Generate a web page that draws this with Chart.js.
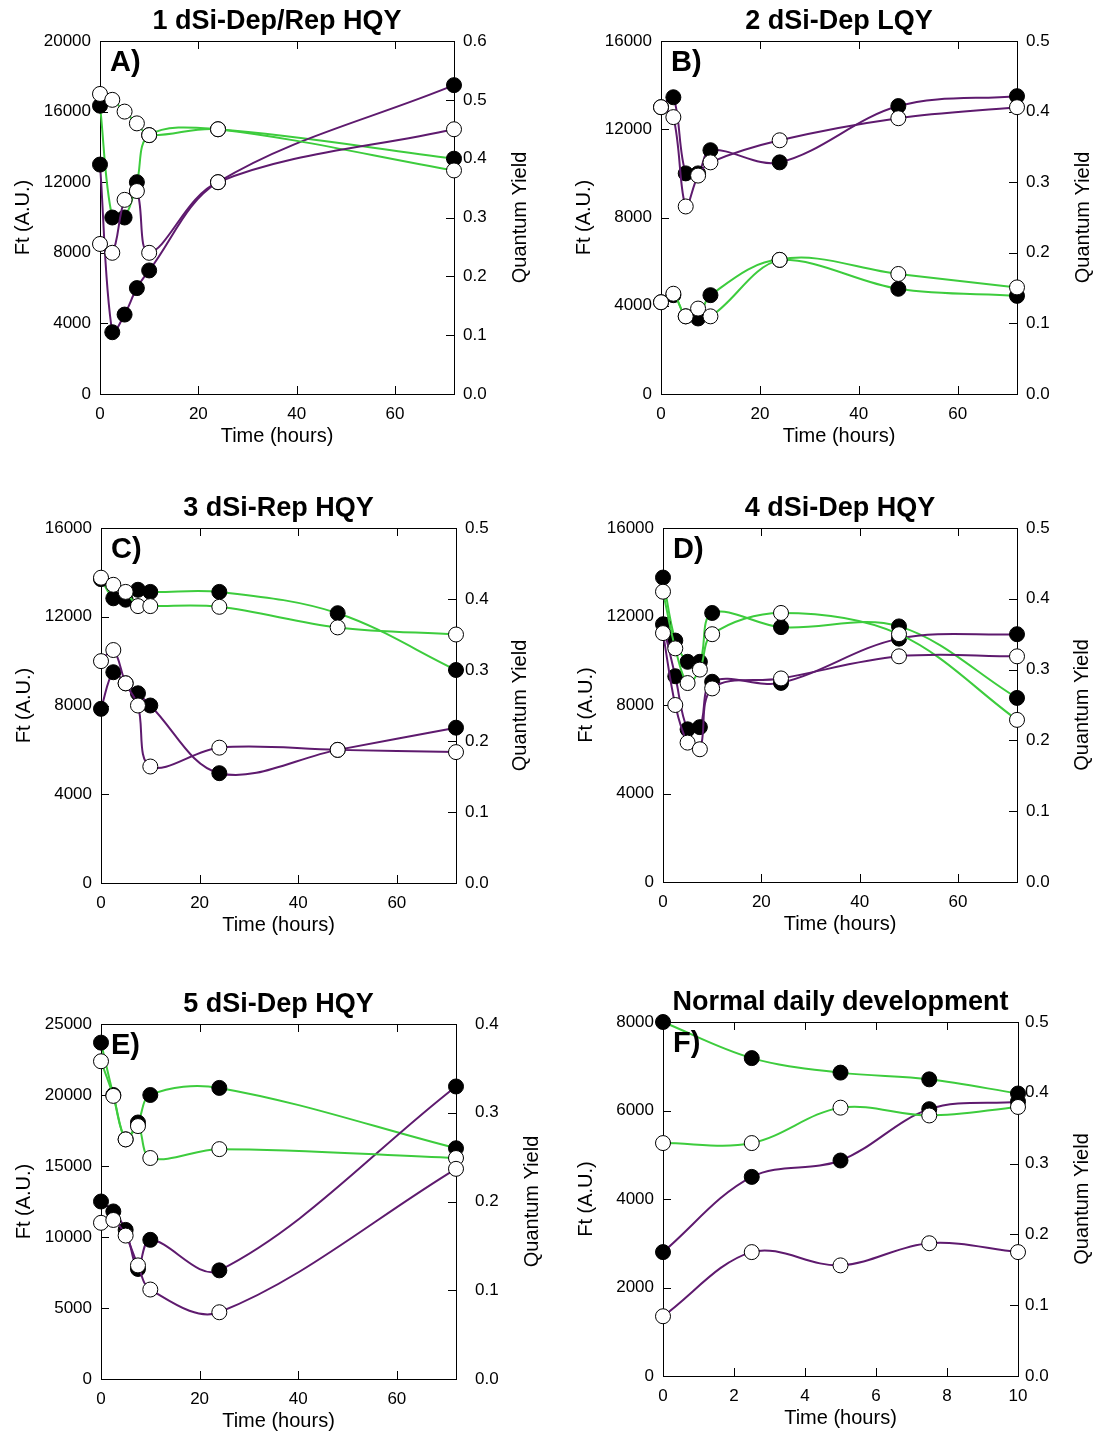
<!DOCTYPE html>
<html>
<head>
<meta charset="utf-8">
<script src="https://cdn.jsdelivr.net/npm/chart.js@4.4.1/dist/chart.umd.min.js"></script>
<style>
  html, body { margin: 0; padding: 0; background: #fff; overflow: hidden; }
  body { width: 1094px; height: 1433px; position: relative; }
  canvas { position: absolute; }
</style>
</head>
<body>
<canvas id="pA"></canvas>
<canvas id="pB"></canvas>
<canvas id="pC"></canvas>
<canvas id="pD"></canvas>
<canvas id="pE"></canvas>
<canvas id="pF"></canvas>
<script>
// time points (hours)
const timeA = [0, 2.5, 5, 7.5, 10, 24, 72];
const timeB = [0, 2.5, 5, 7.5, 10, 24, 48, 72];
const timeC = [0, 2.5, 5, 7.5, 10, 24, 48, 72];
const timeD = [0, 2.5, 5, 7.5, 10, 24, 48, 72];
const timeE = [0, 2.5, 5, 7.5, 10, 24, 72];
const timeF = [0, 2.5, 5, 7.5, 10];

// Ft (A.U.), filled and open symbols
const ftFilledA = [13000, 3500, 4500, 6000, 7000, 12000, 17500];
const ftOpenA = [8500, 8000, 11000, 11500, 8000, 12000, 15000];
const ftFilledB = [13000, 13450, 10000, 10000, 11050, 10500, 13050, 13500];
const ftOpenB = [13000, 12550, 8500, 9900, 10500, 11500, 12500, 13000];
const ftFilledC = [7850, 9500, 9000, 8550, 8000, 4950, 6000, 7000];
const ftOpenC = [10000, 10500, 9000, 8000, 5250, 6100, 6000, 5900];
const ftFilledD = [11650, 9300, 6900, 7000, 9050, 9000, 11000, 11200];
const ftOpenD = [11250, 8000, 6300, 6000, 8750, 9200, 10200, 10200];
const ftFilledE = [12500, 11800, 10500, 7750, 9800, 7650, 20600];
const ftOpenE = [11000, 11200, 10100, 8000, 6300, 4700, 14800];
const ftFilledF = [2800, 4500, 4870, 6030, 6200];
const ftOpenF = [1350, 2800, 2500, 3000, 2800];

// quantum yield, filled and open symbols
const qyFilledA = [0.49, 0.30, 0.30, 0.36, 0.44, 0.45, 0.40];
const qyOpenA = [0.51, 0.50, 0.48, 0.46, 0.44, 0.45, 0.38];
const qyFilledB = [0.13, 0.14, 0.11, 0.107, 0.14, 0.19, 0.149, 0.139];
const qyOpenB = [0.13, 0.142, 0.11, 0.121, 0.11, 0.19, 0.17, 0.151];
const qyFilledC = [0.428, 0.401, 0.399, 0.413, 0.41, 0.41, 0.38, 0.30];
const qyOpenC = [0.43, 0.42, 0.41, 0.39, 0.39, 0.389, 0.36, 0.35];
const qyFilledD = [0.43, 0.341, 0.311, 0.311, 0.38, 0.36, 0.361, 0.26];
const qyOpenD = [0.41, 0.33, 0.281, 0.30, 0.35, 0.38, 0.35, 0.229];
const qyFilledE = [0.379, 0.32, 0.27, 0.289, 0.32, 0.328, 0.26];
const qyOpenE = [0.358, 0.319, 0.27, 0.285, 0.249, 0.259, 0.249];
const qyFilledF = [0.50, 0.449, 0.4285, 0.419, 0.399];
const qyOpenF = [0.329, 0.329, 0.379, 0.368, 0.38];

const PURPLE = '#5e1a6e';
const GREEN = '#3dcc3d';
const AXW = 92, XH = 62, TOPH = 41;

Chart.defaults.font.family = '"Liberation Sans", Arial, sans-serif';
Chart.defaults.color = '#000';

const panels = [
  { id: 'pA', title: '1 dSi-Dep/Rep HQY', letter: 'A)', box: [100, 41, 454, 394],
    t: timeA, ftF: ftFilledA, ftO: ftOpenA, qyF: qyFilledA, qyO: qyOpenA,
    xMax: 72, xStep: 20, ftMax: 20000, ftStep: 4000, qyMax: 0.6, qyGap: 66, qyPad: 9 },
  { id: 'pB', title: '2 dSi-Dep LQY', letter: 'B)', box: [661, 41, 1017, 394],
    t: timeB, ftF: ftFilledB, ftO: ftOpenB, qyF: qyFilledB, qyO: qyOpenB,
    xMax: 72, xStep: 20, ftMax: 16000, ftStep: 4000, qyMax: 0.5, qyGap: 66, qyPad: 9 },
  { id: 'pC', title: '3 dSi-Rep HQY', letter: 'C)', box: [101, 528, 456, 883],
    t: timeC, ftF: ftFilledC, ftO: ftOpenC, qyF: qyFilledC, qyO: qyOpenC,
    xMax: 72, xStep: 20, ftMax: 16000, ftStep: 4000, qyMax: 0.5, qyGap: 64, qyPad: 9 },
  { id: 'pD', title: '4 dSi-Dep HQY', letter: 'D)', box: [663, 528, 1017, 882],
    t: timeD, ftF: ftFilledD, ftO: ftOpenD, qyF: qyFilledD, qyO: qyOpenD,
    xMax: 72, xStep: 20, ftMax: 16000, ftStep: 4000, qyMax: 0.5, qyGap: 65, qyPad: 9 },
  { id: 'pE', title: '5 dSi-Dep HQY', letter: 'E)', box: [101, 1024, 456, 1379],
    t: timeE, ftF: ftFilledE, ftO: ftOpenE, qyF: qyFilledE, qyO: qyOpenE,
    xMax: 72, xStep: 20, ftMax: 25000, ftStep: 5000, qyMax: 0.4, qyGap: 76, qyPad: 19 },
  { id: 'pF', title: 'Normal daily development', letter: 'F)', box: [663, 1022, 1018, 1376],
    t: timeF, ftF: ftFilledF, ftO: ftOpenF, qyF: qyFilledF, qyO: qyOpenF,
    xMax: 10, xStep: 2, ftMax: 8000, ftStep: 2000, qyMax: 0.5, qyGap: 64, qyPad: 7 },
];

// box top line, inward tick marks, panel letter and right axis title
const framePlugin = {
  id: 'frame',
  beforeDatasetsDraw(chart) {
    const { ctx, chartArea: a, scales } = chart;
    const len = 8;
    ctx.save();
    ctx.strokeStyle = '#000';
    ctx.lineWidth = 1;
    ctx.beginPath();
    ctx.moveTo(a.left, a.top + 0.5);
    ctx.lineTo(a.right, a.top + 0.5);
    scales.x.ticks.forEach(tk => {
      const px = Math.round(scales.x.getPixelForValue(tk.value)) + 0.5;
      if (px < a.left + 2 || px > a.right - 2) return;
      ctx.moveTo(px, a.bottom); ctx.lineTo(px, a.bottom - len);
      ctx.moveTo(px, a.top); ctx.lineTo(px, a.top + len);
    });
    scales.y.ticks.forEach(tk => {
      const py = Math.round(scales.y.getPixelForValue(tk.value)) + 0.5;
      if (py < a.top + 2 || py > a.bottom - 2) return;
      ctx.moveTo(a.left, py); ctx.lineTo(a.left + len, py);
    });
    scales.y1.ticks.forEach(tk => {
      const py = Math.round(scales.y1.getPixelForValue(tk.value)) + 0.5;
      if (py < a.top + 2 || py > a.bottom - 2) return;
      ctx.moveTo(a.right, py); ctx.lineTo(a.right - len, py);
    });
    ctx.stroke();
    ctx.restore();
  },
  afterDatasetsDraw(chart, args, opts) {
    const { ctx, chartArea: a } = chart;
    ctx.save();
    ctx.fillStyle = '#000';
    ctx.font = 'bold 29px "Liberation Sans", Arial, sans-serif';
    ctx.textAlign = 'left';
    ctx.textBaseline = 'middle';
    ctx.fillText(opts.letter, a.left + 10, a.top + 22);
    ctx.font = '20px "Liberation Sans", Arial, sans-serif';
    ctx.translate(a.right + opts.qyGap, (a.top + a.bottom) / 2);
    ctx.rotate(-Math.PI / 2);
    ctx.textAlign = 'center';
    ctx.fillText('Quantum Yield', 0, 0);
    ctx.restore();
  }
};

function series(label, t, vals, axis, color, fill) {
  return {
    label: label,
    yAxisID: axis,
    data: t.map((x, i) => ({ x: x, y: vals[i] })),
    borderColor: color,
    borderWidth: 2,
    backgroundColor: fill,
    pointRadius: 7.5,
    pointBackgroundColor: fill,
    pointBorderColor: '#000',
    pointBorderWidth: 1,
    tension: 0.35,
    clip: false,
    fill: false
  };
}

panels.forEach(p => {
  const [L, T, R, B] = p.box;
  const cv = document.getElementById(p.id);
  const w = (R - L) + 2 * AXW, h = TOPH + (B - T) + XH;
  cv.width = w; cv.height = h;
  cv.style.width = w + 'px'; cv.style.height = h + 'px';
  cv.style.left = (L - AXW) + 'px';
  cv.style.top = (T - TOPH) + 'px';

  new Chart(cv, {
    type: 'line',
    data: {
      // first dataset is drawn on top
      datasets: [
        series('Ft open', p.t, p.ftO, 'y', PURPLE, '#fff'),
        series('QY open', p.t, p.qyO, 'y1', GREEN, '#fff'),
        series('Ft filled', p.t, p.ftF, 'y', PURPLE, '#000'),
        series('QY filled', p.t, p.qyF, 'y1', GREEN, '#000'),
      ],
    },
    options: {
      responsive: false,
      animation: false,
      layout: { padding: 0 },
      plugins: {
        legend: { display: false },
        tooltip: { enabled: false },
        title: {
          display: true,
          text: p.title,
          font: { size: 27, weight: 'bold', lineHeight: '32px' },
          padding: { top: 6, bottom: 3 },
          color: '#000'
        },
        frame: { letter: p.letter, qyGap: p.qyGap }
      },
      scales: {
        x: {
          type: 'linear',
          min: 0,
          max: p.xMax,
          afterFit: s => { s.height = XH; },
          ticks: { stepSize: p.xStep, includeBounds: false, padding: 10, font: { size: 17 }, color: '#000', callback: v => String(v) },
          grid: { display: false, drawTicks: false },
          border: { display: true, color: '#000', width: 1 },
          title: { display: true, text: 'Time (hours)', font: { size: 20 }, padding: { top: 0, bottom: 8 }, color: '#000' }
        },
        y: {
          position: 'left',
          min: 0,
          max: p.ftMax,
          afterFit: s => { s.width = AXW; },
          ticks: { stepSize: p.ftStep, padding: 9, font: { size: 17 }, color: '#000', callback: v => String(v) },
          grid: { display: false, drawTicks: false },
          border: { display: true, color: '#000', width: 1 },
          title: { display: true, text: 'Ft (A.U.)', font: { size: 20 }, padding: { top: 3, bottom: 0 }, color: '#000' }
        },
        y1: {
          position: 'right',
          min: 0,
          max: p.qyMax,
          afterFit: s => { s.width = AXW; },
          ticks: { stepSize: 0.1, padding: p.qyPad, font: { size: 17 }, color: '#000', callback: v => v.toFixed(1) },
          grid: { display: false, drawTicks: false },
          border: { display: true, color: '#000', width: 1 }
        }
      }
    },
    plugins: [framePlugin]
  });
});
</script>
</body>
</html>
